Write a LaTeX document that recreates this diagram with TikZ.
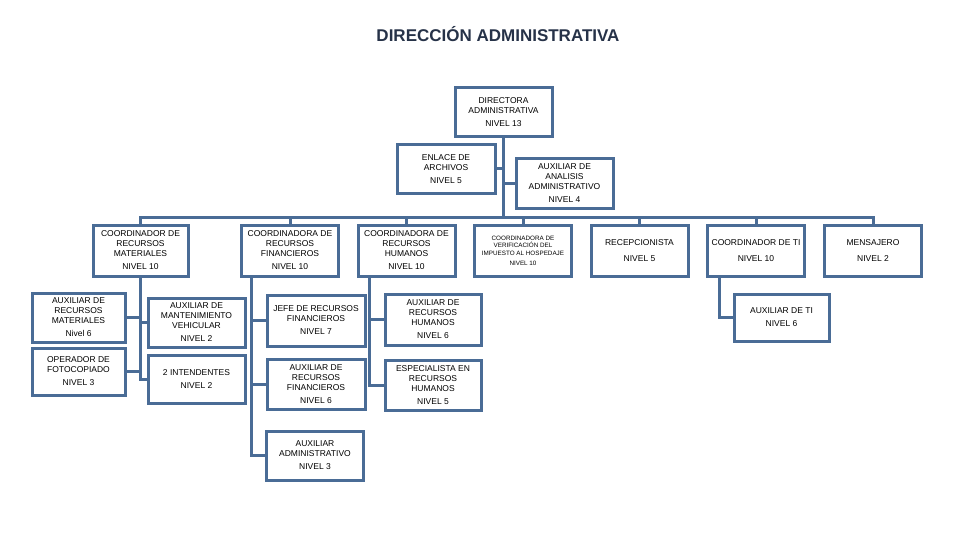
\documentclass[tikz,border=0pt]{standalone}
\usepackage{fontspec}
\setmainfont{Liberation Sans}
\usepackage{tikz}
\usetikzlibrary{calc}

\definecolor{boxblue}{RGB}{74,108,150}
\definecolor{titlenavy}{RGB}{38,50,72}

\tikzset{
  box/.style={draw=boxblue,line width=3pt,fill=white,align=center,inner sep=1pt,
    minimum width=97pt,minimum height=49pt,font=\fontsize{8.5}{10}\selectfont},
  link/.style={draw=boxblue,line width=3pt}
}

\begin{document}
\begin{tikzpicture}[x=1pt,y=-1pt]
\useasboundingbox (0,0) rectangle (960,540);
%\draw[help lines,step=20] (0,0) grid (960,540);

\node[font=\fontsize{17}{20}\selectfont\bfseries,text=titlenavy] (titulo) at (498,34) {DIRECCIÓN ADMINISTRATIVA};

% direccion
\node[box] (dir) at (503.5,112.5) {DIRECTORA\\ADMINISTRATIVA\\[3pt]NIVEL 13};
\node[box,minimum width=98pt,minimum height=48pt] (enlace) at (446,169) {ENLACE DE\\ARCHIVOS\\[3pt]NIVEL 5};
\node[box] (auxan) at (564.5,183.5) {AUXILIAR DE\\ANALISIS\\ADMINISTRATIVO\\[3pt]NIVEL 4};

% coordinaciones
\node[box,minimum width=95pt,minimum height=51pt] (coordmat) at (140.5,250.5) {COORDINADOR DE\\RECURSOS\\MATERIALES\\[3pt]NIVEL 10};
\node[box,minimum height=51pt] (coordfin) at (290,250.5) {COORDINADORA DE\\RECURSOS\\FINANCIEROS\\[3pt]NIVEL 10};
\node[box,minimum height=51pt] (coordhum) at (406.5,250.5) {COORDINADORA DE\\RECURSOS\\HUMANOS\\[3pt]NIVEL 10};
\node[box,minimum height=51pt,font=\fontsize{6.3}{7.6}\selectfont] (verif) at (523,250.5) {COORDINADORA DE\\VERIFICACIÓN DEL\\IMPUESTO AL HOSPEDAJE\\[2pt]NIVEL 10};
\node[box,minimum height=51pt] (recep) at (639.5,250.5) {RECEPCIONISTA\\[6pt]NIVEL 5};
\node[box,minimum height=51pt] (coordti) at (756,250.5) {COORDINADOR DE TI\\[6pt]NIVEL 10};
\node[box,minimum height=51pt] (mens) at (873,250.5) {MENSAJERO\\[6pt]NIVEL 2};

% materiales
\node[box,minimum width=93pt] (auxmat) at (78.5,317.5) {AUXILIAR DE\\RECURSOS\\MATERIALES\\[3pt]Nivel 6};
\node[box,minimum width=93pt,minimum height=47pt] (oper) at (78.5,371.5) {OPERADOR DE\\FOTOCOPIADO\\[3pt]NIVEL 3};
\node[box] (mant) at (196.5,322.5) {AUXILIAR DE\\MANTENIMIENTO\\VEHICULAR\\[3pt]NIVEL 2};
\node[box,minimum height=48pt] (intend) at (196.5,379) {2 INTENDENTES\\[3pt]NIVEL 2};

% financieros
\node[box,minimum width=98pt,minimum height=51pt] (jefe) at (316,320.5) {JEFE DE RECURSOS\\FINANCIEROS\\[3pt]NIVEL 7};
\node[box,minimum width=98pt,minimum height=50pt] (auxfin) at (316,384.5) {AUXILIAR DE\\RECURSOS\\FINANCIEROS\\[3pt]NIVEL 6};
\node[box] (auxadm) at (315,455.5) {AUXILIAR\\ADMINISTRATIVO\\[3pt]NIVEL 3};

% humanos
\node[box,minimum width=96pt,minimum height=51pt] (auxhum) at (433,319.5) {AUXILIAR DE\\RECURSOS\\HUMANOS\\[3pt]NIVEL 6};
\node[box,minimum width=96pt,minimum height=50pt] (espec) at (433,385) {ESPECIALISTA EN\\RECURSOS\\HUMANOS\\[3pt]NIVEL 5};

% TI
\node[box,minimum width=95pt,minimum height=47pt] (auxti) at (781.5,317.5) {AUXILIAR DE TI\\[3pt]NIVEL 6};

% lineas
\coordinate (bus) at (503.5,217);
\coordinate (tfin) at (251,276);
\coordinate (thum) at (369,276);
\coordinate (tti) at (719,276);

\draw[link] (dir.south) -- (bus);
\draw[link] (enlace.east) -- (enlace.east -| dir.south);
\draw[link] (auxan.west) -- (auxan.west -| dir.south);
\draw[link] (coordmat.north) -- (coordmat.north |- bus) -- (mens.north |- bus) -- (mens.north);
\foreach \n in {coordfin,coordhum,verif,recep,coordti}
  \draw[link] (\n.north) -- (\n.north |- bus);

\draw[link] (coordmat.south) |- (intend.west);
\draw[link] (auxmat.east) -- (auxmat.east -| coordmat.south);
\draw[link] (oper.east) -- (oper.east -| coordmat.south);
\draw[link] (mant.west) -- (mant.west -| coordmat.south);

\draw[link] (tfin) |- (auxadm.west);
\draw[link] (jefe.west) -- (jefe.west -| tfin);
\draw[link] (auxfin.west) -- (auxfin.west -| tfin);

\draw[link] (thum) |- (espec.west);
\draw[link] (auxhum.west) -- (auxhum.west -| thum);

\draw[link] (tti) |- (auxti.west);

\end{tikzpicture}
\end{document}
